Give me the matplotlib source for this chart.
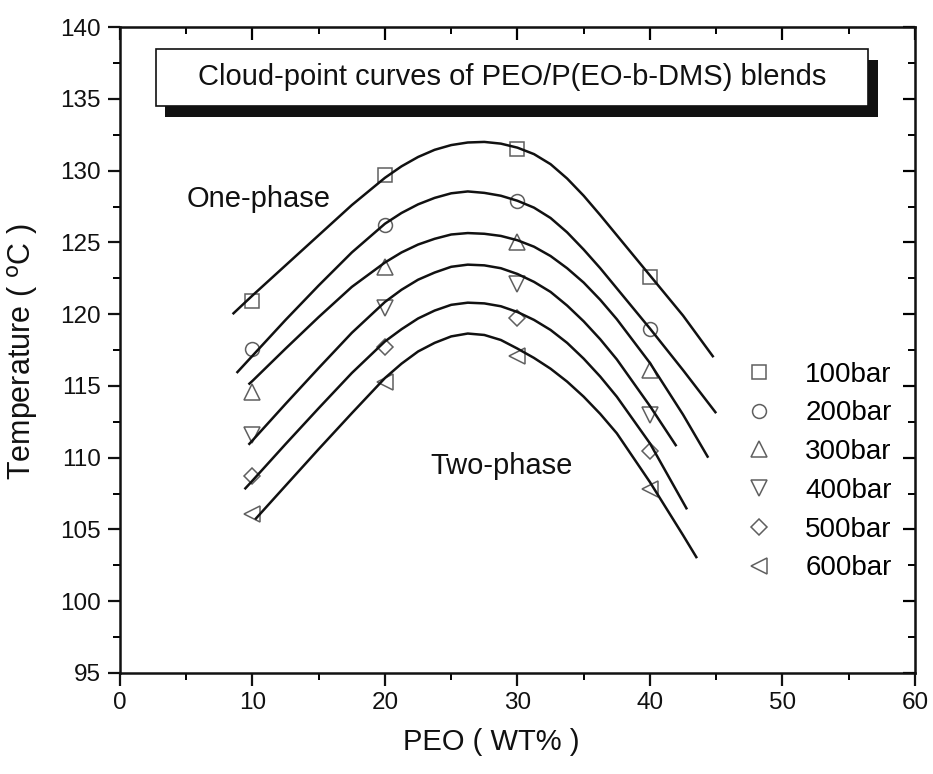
import matplotlib
matplotlib.use("Agg")
import matplotlib.pyplot as plt
from matplotlib.patches import Rectangle

plt.rcParams['font.family'] = ['Liberation Sans', 'DejaVu Sans']

# ==========================
# Data
# ==========================
peo_wt = [10, 20, 30, 40]
pressures = ["100bar", "200bar", "300bar", "400bar", "500bar", "600bar"]
markers = ["s", "o", "^", "v", "D", "<"]

t_100 = [120.9, 129.7, 131.5, 122.6]
t_200 = [117.6, 126.2, 127.9, 119.0]
t_300 = [114.6, 123.3, 125.0, 116.1]
t_400 = [111.6, 120.4, 122.1, 113.0]
t_500 = [108.7, 117.7, 119.7, 110.5]
t_600 = [106.1, 115.3, 117.1, 107.8]

# fitted cloud-point curves
fit_x_100 = [8.5, 10, 12.5, 15, 17.5, 20, 21.25, 22.5, 23.75, 25, 26.25, 27.5, 28.75, 30,
             31.25, 32.5, 33.75, 35, 36.25, 37.5, 40, 42.5, 44.8]
fit_y_100 = [120.0, 121.3, 123.4, 125.5, 127.6, 129.5, 130.3, 130.95, 131.45, 131.78, 131.96, 132.0, 131.88, 131.6,
             131.15, 130.45, 129.45, 128.25, 126.9, 125.5, 122.7, 119.9, 117.0]
fit_x_200 = [8.8, 10, 12.5, 15, 17.5, 20, 21.25, 22.5, 23.75, 25, 26.25, 27.5, 28.75, 30,
             31.25, 32.5, 33.75, 35, 36.25, 37.5, 40, 42.5, 45.0]
fit_y_200 = [115.9, 117.1, 119.6, 122.0, 124.3, 126.3, 127.05, 127.65, 128.1, 128.42, 128.55, 128.45, 128.25, 127.9,
             127.42, 126.7, 125.7, 124.5, 123.2, 121.8, 119.0, 116.1, 113.1]
fit_x_300 = [9.7, 10, 12.5, 15, 17.5, 20, 21.25, 22.5, 23.75, 25, 26.25, 27.5, 28.75, 30,
             31.25, 32.5, 33.75, 35, 36.25, 37.5, 40, 42.5, 44.4]
fit_y_300 = [115.1, 115.35, 117.6, 119.8, 121.9, 123.6, 124.3, 124.85, 125.25, 125.55, 125.65, 125.6, 125.45, 125.15,
             124.7, 124.05, 123.2, 122.2, 121.0, 119.65, 116.6, 113.0, 110.0]
fit_x_400 = [9.7, 10, 12.5, 15, 17.5, 20, 21.25, 22.5, 23.75, 25, 26.25, 27.5, 28.75, 30,
             31.25, 32.5, 33.75, 35, 36.25, 37.5, 40, 42.0]
fit_y_400 = [110.9, 111.2, 113.75, 116.25, 118.7, 120.85, 121.7, 122.4, 122.9, 123.3, 123.45, 123.4, 123.2, 122.8,
             122.25, 121.55, 120.6, 119.5, 118.25, 116.85, 113.6, 110.8]
fit_x_500 = [9.4, 10, 12.5, 15, 17.5, 20, 21.25, 22.5, 23.75, 25, 26.25, 27.5, 28.75, 30,
             31.25, 32.5, 33.75, 35, 36.25, 37.5, 40, 42.8]
fit_y_500 = [107.8, 108.4, 110.95, 113.45, 115.9, 118.1, 118.95, 119.7, 120.25, 120.65, 120.8, 120.75, 120.55, 120.15,
             119.6, 118.9, 118.0, 116.9, 115.65, 114.25, 111.0, 106.4]
fit_x_600 = [10.2, 12.5, 15, 17.5, 20, 21.25, 22.5, 23.75, 25, 26.25, 27.5, 28.75, 30,
             31.25, 32.5, 33.75, 35, 36.25, 37.5, 40, 42.5, 43.55]
fit_y_600 = [105.7, 108.05, 110.6, 113.1, 115.55, 116.55, 117.4, 118.0, 118.45, 118.65, 118.55, 118.2, 117.6,
             116.95, 116.2, 115.3, 114.25, 113.05, 111.7, 108.3, 104.6, 103.0]

points = [t_100, t_200, t_300, t_400, t_500, t_600]
fits = [(fit_x_100, fit_y_100), (fit_x_200, fit_y_200), (fit_x_300, fit_y_300),
        (fit_x_400, fit_y_400), (fit_x_500, fit_y_500), (fit_x_600, fit_y_600)]

# ==========================
# Plot
# ==========================
fig = plt.figure(figsize=(9.33, 7.74), dpi=100)
ax = fig.add_axes([0.1286, 0.1305, 0.852, 0.8345])

mk_color = "#5f5f5f"
handles = []
for t, m, lab in zip(points, markers, pressures):
    ms = 10 if m in ("s", "o") else 11.5
    if m == "D":
        ms = 8.5
    h, = ax.plot(peo_wt, t, linestyle="none", marker=m, markersize=ms,
                 markerfacecolor="none", markeredgecolor=mk_color,
                 markeredgewidth=1.1, label=lab)
    handles.append(h)

for fx, fy in fits:
    ax.plot(fx, fy, color="#111111", linewidth=1.8, solid_capstyle="butt",
            solid_joinstyle="round")

ax.set_xlim(0, 60)
ax.set_ylim(95, 140)
ax.set_xticks(range(0, 61, 10))
ax.set_xticks(range(5, 60, 10), minor=True)
ax.set_yticks(range(95, 141, 5))
ax.set_yticks([97.5 + 5 * i for i in range(9)], minor=True)

for sp in ax.spines.values():
    sp.set_linewidth(1.8)
    sp.set_color("#111111")

ax.tick_params(axis="both", which="major", direction="out", length=9, width=1.6,
               labelsize=17.5, colors="#111111", pad=5)
ax.tick_params(axis="both", which="minor", direction="out", length=5, width=1.4)

# top / right ticks point inwards, no labels
top = ax.secondary_xaxis("top")
top.set_xticks(range(0, 61, 10))
top.set_xticks(range(5, 60, 10), minor=True)
top.tick_params(which="major", direction="in", length=9, width=1.6, labeltop=False)
top.tick_params(which="minor", direction="in", length=5, width=1.4)
right = ax.secondary_yaxis("right")
right.set_yticks(range(95, 141, 5))
right.set_yticks([97.5 + 5 * i for i in range(9)], minor=True)
right.tick_params(which="major", direction="in", length=9, width=1.6, labelright=False)
right.tick_params(which="minor", direction="in", length=5, width=1.4)

ax.set_xlabel("PEO ( WT% )", fontsize=21, color="#111111")
ax.xaxis.set_label_coords(0.467, -0.085)
ax.set_ylabel("Temperature ( $^{\\mathrm{o}}$C )", fontsize=22, color="#111111")
ax.yaxis.set_label_coords(-0.1, 0.497)

ax.text(5.0, 128.0, "One-phase", fontsize=21, ha="left", va="center", color="#111111")
ax.text(23.4, 109.4, "Two-phase", fontsize=21, ha="left", va="center", color="#111111")

# title box with drop shadow
bx, by, bw, bh = 0.045, 0.878, 0.896, 0.088
ax.add_patch(Rectangle((bx + 0.012, by - 0.017), bw, bh, transform=ax.transAxes,
                       facecolor="#111111", edgecolor="none", zorder=5))
ax.add_patch(Rectangle((bx, by), bw, bh, transform=ax.transAxes,
                       facecolor="white", edgecolor="#111111", linewidth=1.2, zorder=6))
ax.text(bx + bw / 2, by + bh / 2, "Cloud-point curves of PEO/P(EO-b-DMS) blends",
        transform=ax.transAxes, ha="center", va="center", fontsize=21,
        color="#111111", zorder=7)

ax.legend(handles=handles, loc="center left", bbox_to_anchor=(0.787, 0.312),
          frameon=False, fontsize=20, handlelength=1.0, handletextpad=1.15,
          labelspacing=0.46, borderpad=0, borderaxespad=0)

fig.savefig("out.png", dpi=100)
